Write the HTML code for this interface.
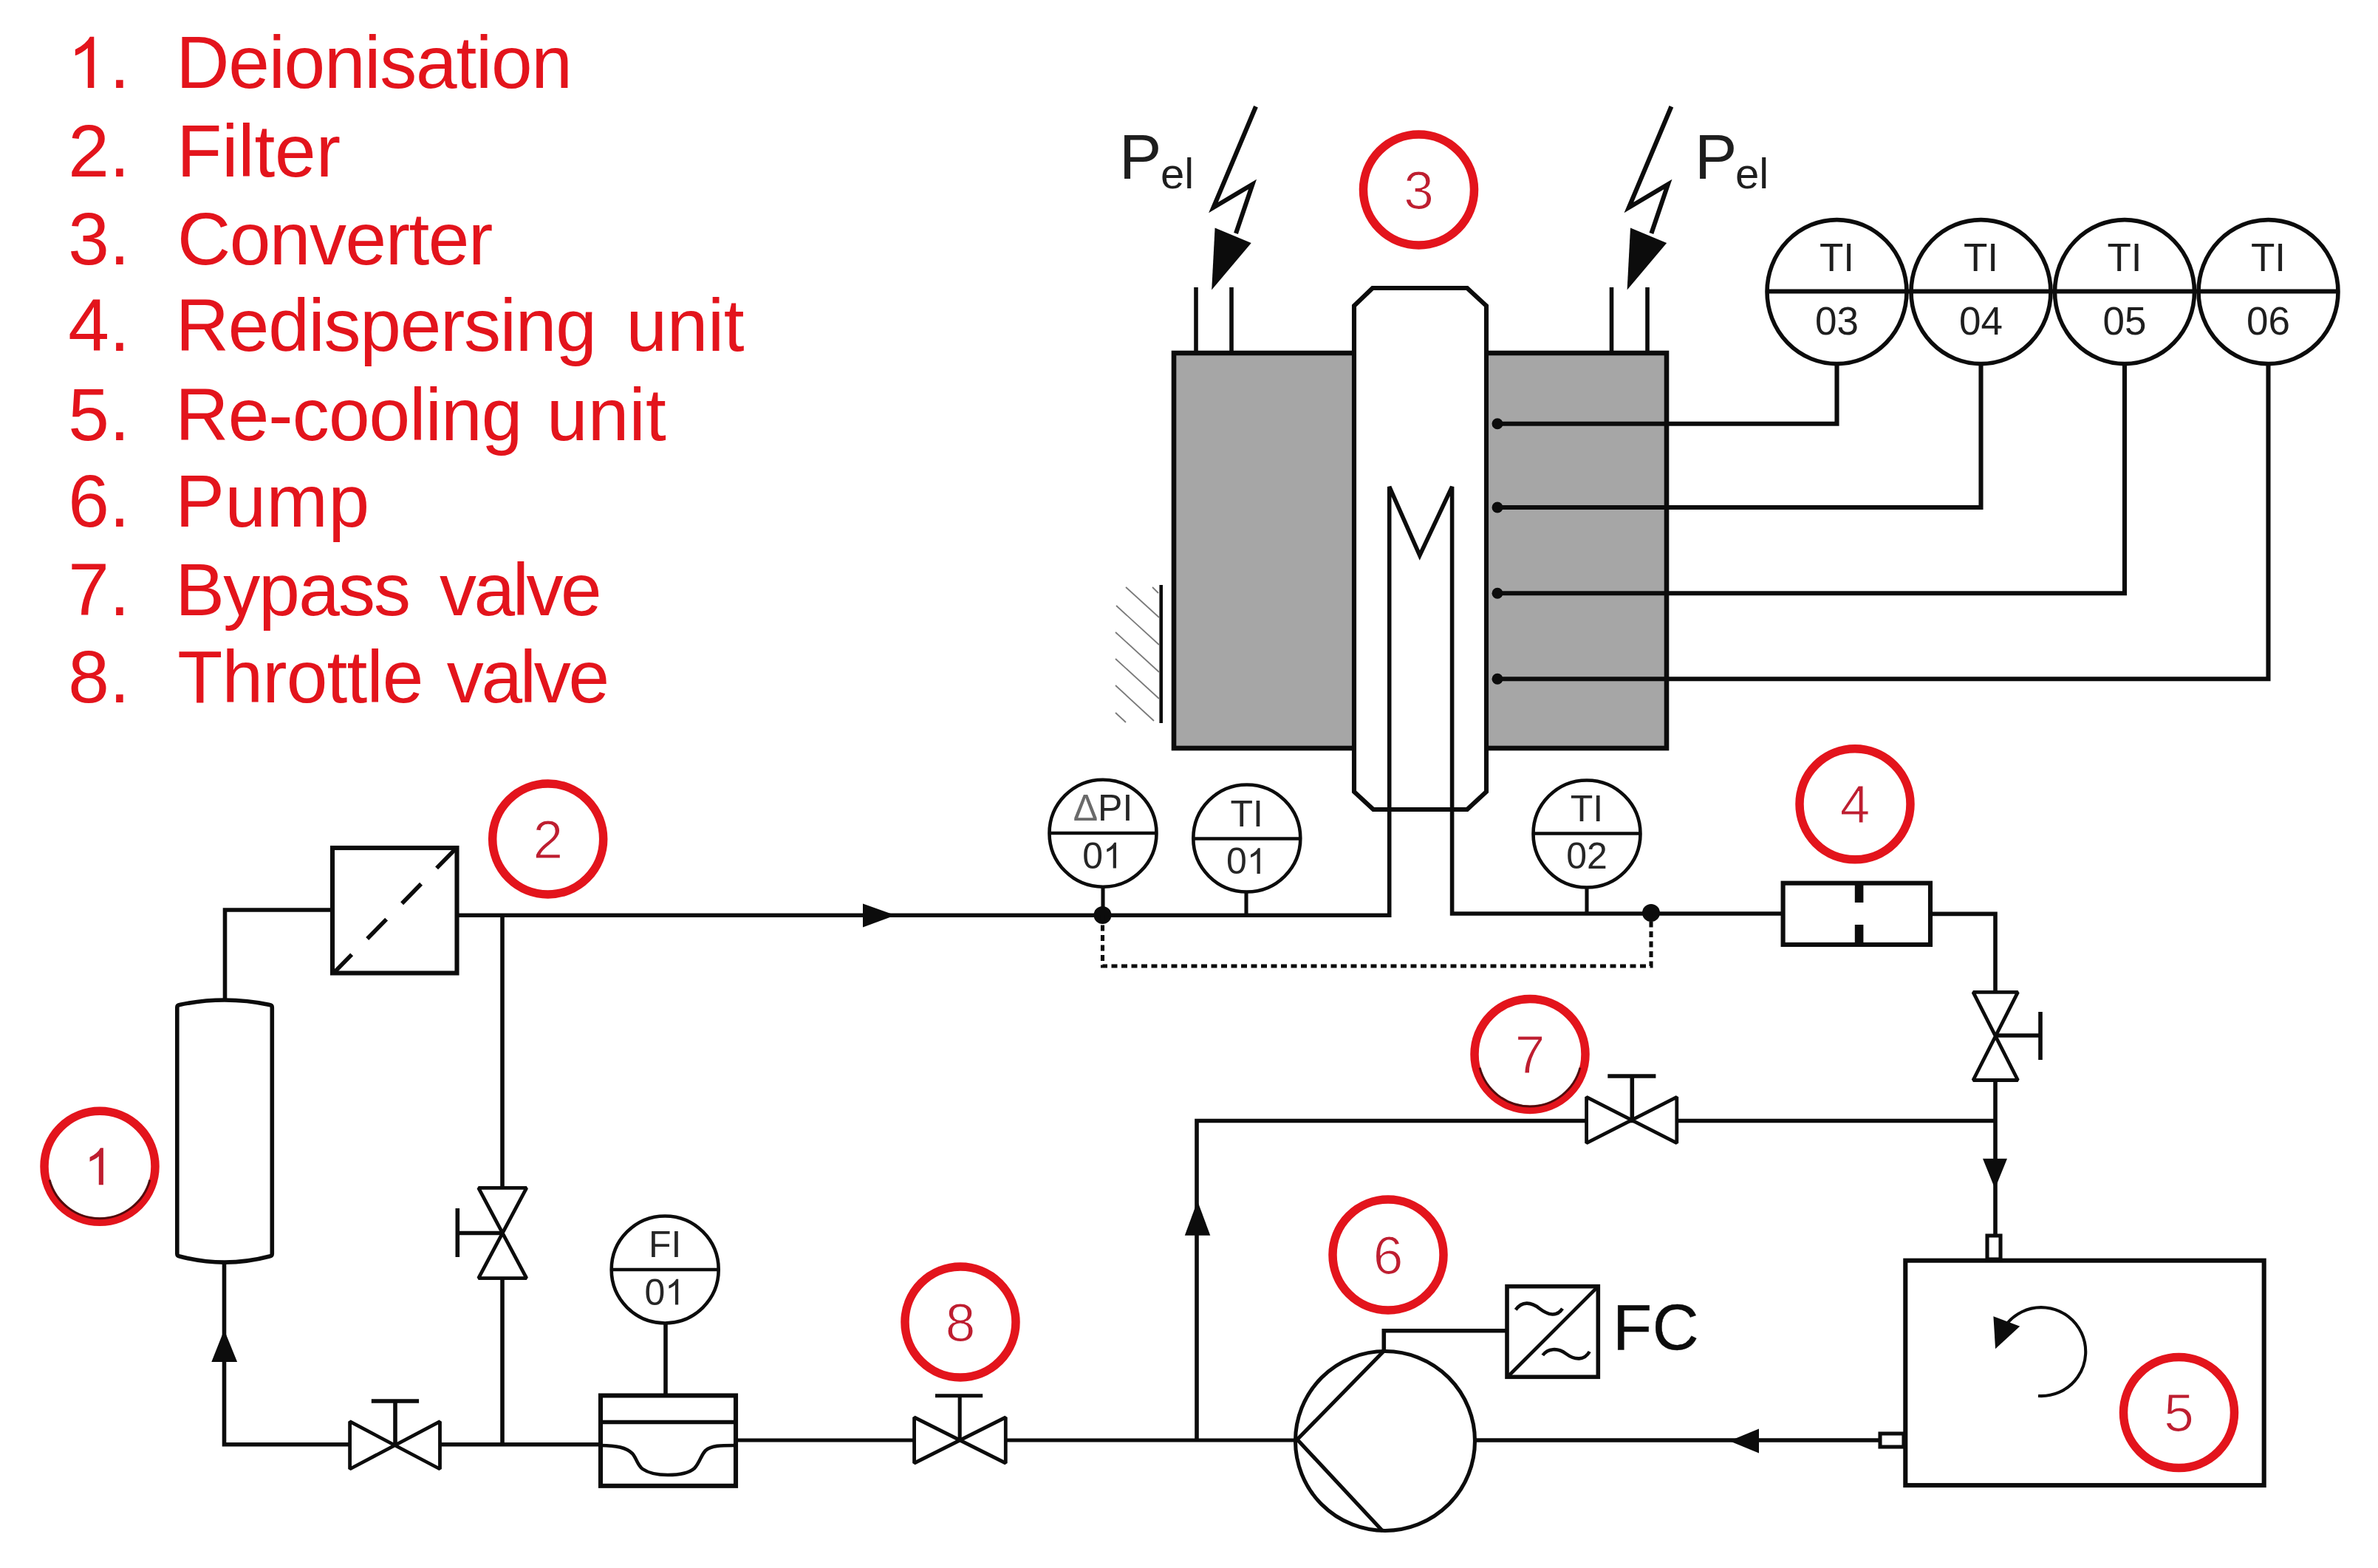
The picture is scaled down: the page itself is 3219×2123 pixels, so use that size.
<!DOCTYPE html>
<html><head><meta charset="utf-8"><style>
html,body{margin:0;padding:0;background:#fff;overflow:hidden}
svg{display:block}
</style></head><body>
<svg width="3219" height="2123" viewBox="0 0 3219 2123">
<rect width="3219" height="2123" fill="#fff"/>
<path d="M763,0 H583 V1147 Q518,1085 413,1023 Q308,961 223,930 V1104 Q374,1175 487,1276 Q600,1377 647,1472 H763 Z" fill="#E3141C" transform="translate(91.33,119.1) scale(0.04712,-0.04712)"/>
<text x="147.95" y="119.1" font-size="100" fill="#E3141C" font-family="Liberation Sans, sans-serif" style="font-kerning:none">.</text>
<text x="238.30" y="119.1" font-size="100" fill="#E3141C" letter-spacing="-1.250" font-family="Liberation Sans, sans-serif" style="font-kerning:none" >Deionisation</text>
<text x="92.33" y="239.4" font-size="100" fill="#E3141C" font-family="Liberation Sans, sans-serif" style="font-kerning:none">2.</text>
<text x="239.20" y="239.4" font-size="100" fill="#E3141C" letter-spacing="-0.091" font-family="Liberation Sans, sans-serif" style="font-kerning:none" >Filter</text>
<text x="92.33" y="358.0" font-size="100" fill="#E3141C" font-family="Liberation Sans, sans-serif" style="font-kerning:none">3.</text>
<text x="239.92" y="358.0" font-size="100" fill="#E3141C" letter-spacing="-1.466" font-family="Liberation Sans, sans-serif" style="font-kerning:none" >Converter</text>
<text x="92.33" y="475.3" font-size="100" fill="#E3141C" font-family="Liberation Sans, sans-serif" style="font-kerning:none">4.</text>
<text x="237.80" y="475.3" font-size="100" fill="#E3141C" letter-spacing="-1.236" font-family="Liberation Sans, sans-serif" style="font-kerning:none" >Redispersing</text>
<text x="847.41" y="475.3" font-size="100" fill="#E3141C" letter-spacing="-0.368" font-family="Liberation Sans, sans-serif" style="font-kerning:none" >unit</text>
<text x="92.33" y="595.6" font-size="100" fill="#E3141C" font-family="Liberation Sans, sans-serif" style="font-kerning:none">5.</text>
<text x="237.30" y="595.6" font-size="100" fill="#E3141C" letter-spacing="-0.887" font-family="Liberation Sans, sans-serif" style="font-kerning:none" >Re-cooling</text>
<text x="739.91" y="595.6" font-size="100" fill="#E3141C" letter-spacing="0.232" font-family="Liberation Sans, sans-serif" style="font-kerning:none" >unit</text>
<text x="92.33" y="713.4" font-size="100" fill="#E3141C" font-family="Liberation Sans, sans-serif" style="font-kerning:none">6.</text>
<text x="237.30" y="713.4" font-size="100" fill="#E3141C" letter-spacing="0.491" font-family="Liberation Sans, sans-serif" style="font-kerning:none" >Pump</text>
<text x="92.33" y="833.2" font-size="100" fill="#E3141C" font-family="Liberation Sans, sans-serif" style="font-kerning:none">7.</text>
<text x="237.30" y="833.2" font-size="100" fill="#E3141C" letter-spacing="-1.823" font-family="Liberation Sans, sans-serif" style="font-kerning:none" >Bypass</text>
<text x="594.96" y="833.2" font-size="100" fill="#E3141C" letter-spacing="-3.416" font-family="Liberation Sans, sans-serif" style="font-kerning:none" >valve</text>
<text x="92.33" y="951.0" font-size="100" fill="#E3141C" font-family="Liberation Sans, sans-serif" style="font-kerning:none">8.</text>
<text x="240.35" y="951.0" font-size="100" fill="#E3141C" letter-spacing="-0.846" font-family="Liberation Sans, sans-serif" style="font-kerning:none" >Throttle</text>
<text x="604.66" y="951.0" font-size="100" fill="#E3141C" letter-spacing="-3.216" font-family="Liberation Sans, sans-serif" style="font-kerning:none" >valve</text>
<rect x="1589" y="478" width="667" height="535" fill="#A6A6A6" stroke="#0c0c0c" stroke-width="6.6"/>
<line x1="1619" y1="389" x2="1619" y2="478" stroke="#0c0c0c" stroke-width="5.6" />
<line x1="1667" y1="389" x2="1667" y2="478" stroke="#0c0c0c" stroke-width="5.6" />
<line x1="2181.5" y1="389" x2="2181.5" y2="478" stroke="#0c0c0c" stroke-width="5.6" />
<line x1="2230" y1="389" x2="2230" y2="478" stroke="#0c0c0c" stroke-width="5.6" />
<path d="M1833,1072 L1833,414 L1858,390 L1986,390 L2012,414 L2012,1072 L1986,1096 L1859,1096 Z" stroke="#0c0c0c" stroke-width="6.1" fill="#fff" />
<path d="M619,1239.3 H1880.7 V659 L1921.8,752 L1965.6,659 V1237 H2413.6" stroke="#0c0c0c" stroke-width="5.6" fill="none" />
<line x1="1571.7" y1="792" x2="1571.7" y2="979" stroke="#0c0c0c" stroke-width="4.6" />
<line x1="1560" y1="795" x2="1568" y2="803" stroke="#7a7a7a" stroke-width="1.8" />
<line x1="1524" y1="795" x2="1569" y2="836" stroke="#7a7a7a" stroke-width="1.8" />
<line x1="1511" y1="820" x2="1569" y2="873" stroke="#7a7a7a" stroke-width="1.8" />
<line x1="1510" y1="856" x2="1569" y2="910" stroke="#7a7a7a" stroke-width="1.8" />
<line x1="1510" y1="892" x2="1569" y2="946" stroke="#7a7a7a" stroke-width="1.8" />
<line x1="1510" y1="928" x2="1562" y2="976" stroke="#7a7a7a" stroke-width="1.8" />
<line x1="1510" y1="965" x2="1524" y2="978" stroke="#7a7a7a" stroke-width="1.8" />
<circle cx="2027" cy="573.7" r="7.5" fill="#0c0c0c"/>
<path d="M2027,573.7 H2486.5 V492" stroke="#0c0c0c" stroke-width="6.1" fill="none" />
<circle cx="2027" cy="687" r="7.5" fill="#0c0c0c"/>
<path d="M2027,687 H2681.5 V492" stroke="#0c0c0c" stroke-width="6.1" fill="none" />
<circle cx="2027" cy="803.3" r="7.5" fill="#0c0c0c"/>
<path d="M2027,803.3 H2876 V492" stroke="#0c0c0c" stroke-width="6.1" fill="none" />
<circle cx="2027" cy="919.3" r="7.5" fill="#0c0c0c"/>
<path d="M2027,919.3 H3070.5 V492" stroke="#0c0c0c" stroke-width="6.1" fill="none" />
<ellipse cx="2486.5" cy="395.1" rx="94.5" ry="97.5" stroke="#0c0c0c" stroke-width="5.6" fill="#fff"/>
<ellipse cx="2681.5" cy="395.1" rx="94.5" ry="97.5" stroke="#0c0c0c" stroke-width="5.6" fill="#fff"/>
<ellipse cx="2876" cy="395.1" rx="94.5" ry="97.5" stroke="#0c0c0c" stroke-width="5.6" fill="#fff"/>
<ellipse cx="3070.5" cy="395.1" rx="94.5" ry="97.5" stroke="#0c0c0c" stroke-width="5.6" fill="#fff"/>
<text x="2486.5" y="367" font-size="53" fill="#1e1e1e" text-anchor="middle" font-family="Liberation Sans, sans-serif" >TI</text>
<text x="2486.5" y="452.5" font-size="53" fill="#1e1e1e" text-anchor="middle" font-family="Liberation Sans, sans-serif" >03</text>
<text x="2681.5" y="367" font-size="53" fill="#1e1e1e" text-anchor="middle" font-family="Liberation Sans, sans-serif" >TI</text>
<text x="2681.5" y="452.5" font-size="53" fill="#1e1e1e" text-anchor="middle" font-family="Liberation Sans, sans-serif" >04</text>
<text x="2876" y="367" font-size="53" fill="#1e1e1e" text-anchor="middle" font-family="Liberation Sans, sans-serif" >TI</text>
<text x="2876" y="452.5" font-size="53" fill="#1e1e1e" text-anchor="middle" font-family="Liberation Sans, sans-serif" >05</text>
<text x="3070.5" y="367" font-size="53" fill="#1e1e1e" text-anchor="middle" font-family="Liberation Sans, sans-serif" >TI</text>
<text x="3070.5" y="452.5" font-size="53" fill="#1e1e1e" text-anchor="middle" font-family="Liberation Sans, sans-serif" >06</text>
<line x1="2390" y1="394.5" x2="3166" y2="394.5" stroke="#0c0c0c" stroke-width="6.1" />
<path d="M1700,144.3 L1642.5,281 L1695.5,249.5 L1673,316" stroke="#0c0c0c" stroke-width="6.1" fill="none" />
<polygon points="1644.6,308.6 1693.75,329.1 1640.2,392.5" fill="#0c0c0c"/>
<path d="M2262.4,144.3 L2204.9,281 L2257.9,249.5 L2235.4,316" stroke="#0c0c0c" stroke-width="6.1" fill="none" />
<polygon points="2207.0,308.6 2256.15,329.1 2202.6,392.5" fill="#0c0c0c"/>
<text x="1515" y="241.5" font-size="86" fill="#1e1e1e" text-anchor="start" font-family="Liberation Sans, sans-serif" >P</text>
<text x="1571" y="255" font-size="58" fill="#1e1e1e" text-anchor="start" font-family="Liberation Sans, sans-serif" >el</text>
<text x="2294" y="242" font-size="86" fill="#1e1e1e" text-anchor="start" font-family="Liberation Sans, sans-serif" >P</text>
<text x="2349" y="255" font-size="58" fill="#1e1e1e" text-anchor="start" font-family="Liberation Sans, sans-serif" >el</text>
<circle cx="1920.5" cy="257" r="75" stroke="#E3141C" stroke-width="11.5" fill="none"/>
<text x="1920.5" y="282.696" font-size="73" fill="#BE1E30" text-anchor="middle" font-family="Liberation Sans, sans-serif" stroke="#fff" stroke-width="1.2">3</text>
<circle cx="1493" cy="1128.2" r="72.5" stroke="#0c0c0c" stroke-width="4.6" fill="#fff"/>
<line x1="1420.5" y1="1128" x2="1565.5" y2="1128" stroke="#0c0c0c" stroke-width="4.6" />
<text x="1493" y="1111" font-size="50" fill="#262626" text-anchor="middle" font-family="Liberation Sans, sans-serif" ><tspan fill='#6a6a6a'>&#916;</tspan>PI</text>
<text x="1465.1923828125" y="1175.5" font-size="50" fill="#262626" text-anchor="start" font-family="Liberation Sans, sans-serif" >0</text>
<path d="M763,0 H583 V1147 Q518,1085 413,1023 Q308,961 223,930 V1104 Q374,1175 487,1276 Q600,1377 647,1472 H763 Z" fill="#262626" transform="translate(1493.00,1175.5) scale(0.02356,-0.02356)"/>
<circle cx="1687.8" cy="1135" r="72.5" stroke="#0c0c0c" stroke-width="4.6" fill="#fff"/>
<line x1="1615.3" y1="1135.5" x2="1760.3" y2="1135.5" stroke="#0c0c0c" stroke-width="4.6" />
<text x="1687.8" y="1118.5" font-size="50" fill="#262626" text-anchor="middle" font-family="Liberation Sans, sans-serif" >TI</text>
<text x="1659.9923828125" y="1183.0" font-size="50" fill="#262626" text-anchor="start" font-family="Liberation Sans, sans-serif" >0</text>
<path d="M763,0 H583 V1147 Q518,1085 413,1023 Q308,961 223,930 V1104 Q374,1175 487,1276 Q600,1377 647,1472 H763 Z" fill="#262626" transform="translate(1687.80,1183.0) scale(0.02356,-0.02356)"/>
<circle cx="2148" cy="1129" r="72.5" stroke="#0c0c0c" stroke-width="4.6" fill="#fff"/>
<line x1="2075.5" y1="1128.5" x2="2220.5" y2="1128.5" stroke="#0c0c0c" stroke-width="4.6" />
<text x="2148" y="1111.5" font-size="50" fill="#262626" text-anchor="middle" font-family="Liberation Sans, sans-serif" >TI</text>
<text x="2148" y="1176.0" font-size="50" fill="#262626" text-anchor="middle" font-family="Liberation Sans, sans-serif" >02</text>
<line x1="1493" y1="1201" x2="1493" y2="1239" stroke="#0c0c0c" stroke-width="5.1" />
<line x1="1687" y1="1208" x2="1687" y2="1239" stroke="#0c0c0c" stroke-width="5.1" />
<line x1="2148" y1="1201" x2="2148" y2="1236" stroke="#0c0c0c" stroke-width="5.1" />
<polygon points="1168,1223.5 1212,1239.3 1168,1255.6" fill="#0c0c0c"/>
<circle cx="1492.5" cy="1239" r="12" fill="#0c0c0c"/>
<circle cx="2235" cy="1236" r="12" fill="#0c0c0c"/>
<path d="M1492.5,1239 V1308 H2235 V1236" stroke="#0c0c0c" stroke-width="5.1" fill="none" stroke-dasharray="8 5.5"/>
<rect x="2413.6" y="1195.7" width="199.4" height="83.3" fill="#fff" stroke="#0c0c0c" stroke-width="6.1"/>
<line x1="2516.6" y1="1198" x2="2516.6" y2="1222" stroke="#0c0c0c" stroke-width="11.6" />
<line x1="2516.6" y1="1252" x2="2516.6" y2="1277" stroke="#0c0c0c" stroke-width="11.6" />
<circle cx="2511" cy="1088.8" r="75" stroke="#E3141C" stroke-width="11.5" fill="none"/>
<text x="2511" y="1114.4959999999999" font-size="73" fill="#BE1E30" text-anchor="middle" font-family="Liberation Sans, sans-serif" stroke="#fff" stroke-width="1.2">4</text>
<path d="M2613,1237.4 H2701 V1343" stroke="#0c0c0c" stroke-width="5.6" fill="none" />
<path d="M2671,1343.3 H2731.5 L2671,1462.5 H2731.5 Z" stroke="#0c0c0c" stroke-width="4.8" fill="#fff" stroke-linejoin="bevel"/>
<path d="M2701,1402 H2762 M2762,1370 V1435" stroke="#0c0c0c" stroke-width="5.6" fill="none" />
<path d="M2701,1462.5 V1671.5" stroke="#0c0c0c" stroke-width="5.6" fill="none" />
<polygon points="2700.5,1609.6 2684,1568.7 2717,1568.7" fill="#0c0c0c"/>
<path d="M1620,1949 V1517.5 H2701" stroke="#0c0c0c" stroke-width="5.6" fill="none" />
<polygon points="1621,1626 1603.8,1672.8 1638.3,1672.8" fill="#0c0c0c"/>
<path d="M2147.6,1485.3 V1547.7 L2269.8,1485.3 V1547.7 Z" stroke="#0c0c0c" stroke-width="4.8" fill="#fff" stroke-linejoin="bevel"/>
<path d="M2209.3,1516.7 V1457 M2176.3,1457 H2241.4" stroke="#0c0c0c" stroke-width="5.6" fill="none" />
<circle cx="2071" cy="1427.5" r="75" stroke="#E3141C" stroke-width="11.5" fill="none"/>
<path d="M2138.9,1445.7 A70.25,70.25 0 0 1 2003.1,1445.7" stroke="#3a0808" stroke-width="3" fill="none" opacity="0.85"/>
<text x="2071" y="1453.196" font-size="73" fill="#BE1E30" text-anchor="middle" font-family="Liberation Sans, sans-serif" stroke="#fff" stroke-width="1.2">7</text>
<rect x="2579.3" y="1706.7" width="485.4" height="304.3" fill="#fff" stroke="#0c0c0c" stroke-width="6.1"/>
<rect x="2690" y="1673" width="18" height="32" fill="#fff" stroke="#0c0c0c" stroke-width="5.1"/>
<rect x="2545" y="1941" width="32" height="18" fill="#fff" stroke="#0c0c0c" stroke-width="5.1"/>
<path d="M2759,1890 A60,60 0 1 0 2714.9,1794.6" stroke="#0c0c0c" stroke-width="4.1" fill="none" />
<polygon points="2698.4,1782.3 2734.2,1795.8 2701.1,1826.2" fill="#0c0c0c"/>
<circle cx="2949.5" cy="1912.6" r="75" stroke="#E3141C" stroke-width="11.5" fill="none"/>
<text x="2949.5" y="1938.2959999999998" font-size="73" fill="#BE1E30" text-anchor="middle" font-family="Liberation Sans, sans-serif" stroke="#fff" stroke-width="1.2">5</text>
<path d="M1998,1950 H2545" stroke="#0c0c0c" stroke-width="5.6" fill="none" />
<polygon points="2341,1951 2381,1934.4 2381,1967.6" fill="#0c0c0c"/>
<circle cx="1875" cy="1951" r="121.5" stroke="#0c0c0c" stroke-width="5.1" fill="#fff"/>
<path d="M1873.5,1829 L1756,1949 L1871.7,2073" stroke="#0c0c0c" stroke-width="5.1" fill="none" />
<path d="M1873.3,1829 V1801.7 H2040" stroke="#0c0c0c" stroke-width="5.6" fill="none" />
<rect x="2040" y="1741.7" width="123.3" height="122.6" fill="#fff" stroke="#0c0c0c" stroke-width="5.6"/>
<line x1="2043" y1="1862" x2="2161" y2="1744" stroke="#0c0c0c" stroke-width="4.6" />
<path d="M2051.7,1773.4 C2060,1762 2072,1762 2084,1771.7 C2096,1781 2108,1783 2115,1771.7" stroke="#0c0c0c" stroke-width="4.6" fill="none" />
<path d="M2088.3,1835 C2095,1826 2108,1824 2120,1833 C2132,1842 2145,1842 2151.7,1830" stroke="#0c0c0c" stroke-width="4.6" fill="none" />
<text x="2183" y="1826.5" font-size="87" fill="#0c0c0c" text-anchor="start" font-family="Liberation Sans, sans-serif" stroke="#0d0d0d" stroke-width="0.4" letter-spacing="0.5">FC</text>
<circle cx="1879" cy="1699" r="75" stroke="#E3141C" stroke-width="11.5" fill="none"/>
<text x="1879" y="1724.696" font-size="73" fill="#BE1E30" text-anchor="middle" font-family="Liberation Sans, sans-serif" stroke="#fff" stroke-width="1.2">6</text>
<path d="M996,1950 H1756" stroke="#0c0c0c" stroke-width="5.1" fill="none" />
<path d="M1237.6,1919 V1981 L1361.3,1919 V1981 Z" stroke="#0c0c0c" stroke-width="4.8" fill="#fff" stroke-linejoin="bevel"/>
<path d="M1299.2,1949 V1889.7 M1266,1889.7 H1330.2" stroke="#0c0c0c" stroke-width="5.1" fill="none" />
<circle cx="1300" cy="1790" r="75" stroke="#E3141C" stroke-width="11.5" fill="none"/>
<text x="1300" y="1815.696" font-size="73" fill="#BE1E30" text-anchor="middle" font-family="Liberation Sans, sans-serif" stroke="#fff" stroke-width="1.2">8</text>
<rect x="450" y="1148" width="168.5" height="169.5" fill="#fff" stroke="#0c0c0c" stroke-width="6.1"/>
<line x1="617" y1="1149" x2="452" y2="1317" stroke="#0c0c0c" stroke-width="5.6" stroke-dasharray="37 30"/>
<path d="M450,1232 H304.5 V1354" stroke="#0c0c0c" stroke-width="5.6" fill="none" />
<circle cx="741.7" cy="1136" r="75" stroke="#E3141C" stroke-width="11.5" fill="none"/>
<text x="741.7" y="1161.696" font-size="73" fill="#BE1E30" text-anchor="middle" font-family="Liberation Sans, sans-serif" stroke="#fff" stroke-width="1.2">2</text>
<path d="M239.8,1364 Q239.8,1361 243,1360.5 Q304,1347.5 365,1360.5 Q368.3,1361 368.3,1364 V1697.5 Q368.3,1700.5 365,1701 Q304,1717.2 243,1701 Q239.8,1700.5 239.8,1697.5 Z" stroke="#0c0c0c" stroke-width="5.6" fill="#fff" />
<circle cx="135" cy="1579.3" r="75" stroke="#E3141C" stroke-width="11.5" fill="none"/>
<path d="M202.9,1597.5 A70.25,70.25 0 0 1 67.1,1597.5" stroke="#3a0808" stroke-width="3" fill="none" opacity="0.85"/>
<path d="M763,0 H583 V1147 Q518,1085 413,1023 Q308,961 223,930 V1104 Q374,1175 487,1276 Q600,1377 647,1472 H763 Z" fill="#BE1E30" transform="translate(114.00,1604.3) scale(0.03393,-0.03393)"/>
<path d="M303.5,1711 V1955.8 H813" stroke="#0c0c0c" stroke-width="5.6" fill="none" />
<polygon points="303.5,1800.6 286.3,1844 321.1,1844" fill="#0c0c0c"/>
<path d="M680,1239 V1608" stroke="#0c0c0c" stroke-width="5.6" fill="none" />
<path d="M680,1730.6 V1955.8" stroke="#0c0c0c" stroke-width="5.6" fill="none" />
<path d="M647.7,1608.3 H712.8 L647.7,1730.6 H712.8 Z" stroke="#0c0c0c" stroke-width="4.8" fill="#fff" stroke-linejoin="bevel"/>
<path d="M680,1669.5 H619.3 M619.3,1636 V1702" stroke="#0c0c0c" stroke-width="5.6" fill="none" />
<path d="M473.6,1924.7 V1989 L595.5,1924.7 V1989 Z" stroke="#0c0c0c" stroke-width="4.8" fill="#fff" stroke-linejoin="bevel"/>
<path d="M535,1955.8 V1897 M502.8,1897 H567.1" stroke="#0c0c0c" stroke-width="5.6" fill="none" />
<circle cx="900.2" cy="1719" r="72.5" stroke="#0c0c0c" stroke-width="4.6" fill="#fff"/>
<line x1="827.7" y1="1719" x2="972.7" y2="1719" stroke="#0c0c0c" stroke-width="4.6" />
<text x="900.2" y="1702" font-size="50" fill="#262626" text-anchor="middle" font-family="Liberation Sans, sans-serif" >FI</text>
<text x="872.3923828125" y="1766.5" font-size="50" fill="#262626" text-anchor="start" font-family="Liberation Sans, sans-serif" >0</text>
<path d="M763,0 H583 V1147 Q518,1085 413,1023 Q308,961 223,930 V1104 Q374,1175 487,1276 Q600,1377 647,1472 H763 Z" fill="#262626" transform="translate(900.20,1766.5) scale(0.02356,-0.02356)"/>
<line x1="901" y1="1793" x2="901" y2="1889.5" stroke="#0c0c0c" stroke-width="5.6" />
<rect x="813" y="1889.5" width="183" height="122.3" fill="#fff" stroke="#0c0c0c" stroke-width="6.1"/>
<line x1="813" y1="1925.5" x2="996" y2="1925.5" stroke="#0c0c0c" stroke-width="5.6" />
<path d="M813,1957 C835,1957 848,1960 856,1968 C862,1975 863,1984 870,1989 C880,1996 892,1997 904,1997 C918,1997 932,1995 940,1988 C947,1981 949,1970 955,1964 C963,1957 975,1957 995,1957" stroke="#0c0c0c" stroke-width="4.6" fill="none" />
</svg>
</body></html>
